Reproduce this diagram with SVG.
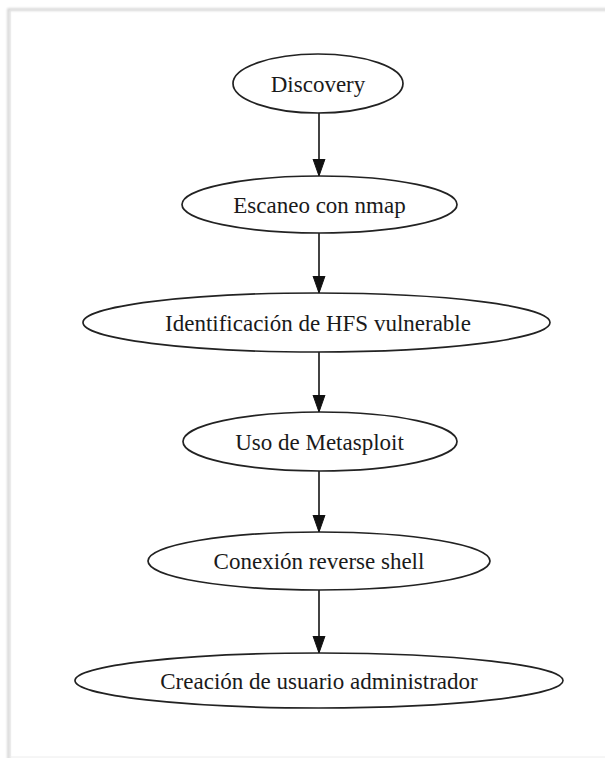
<svg xmlns="http://www.w3.org/2000/svg" width="605" height="758" viewBox="0 0 605 758">
<defs>
<marker id="ah" markerUnits="userSpaceOnUse" markerWidth="18" markerHeight="14" refX="17" refY="7" orient="auto" viewBox="0 0 18 14">
<polygon points="0,1 0,13 17,7" fill="#111" stroke="#111" stroke-width="1"/>
</marker>
<filter id="sh" x="-5%" y="-5%" width="110%" height="110%">
<feGaussianBlur stdDeviation="1"/>
</filter>
<style>
.n ellipse{fill:#fff;stroke:#222;stroke-width:1.7}
.n text{font-family:"Liberation Serif","Times New Roman",serif;font-size:23px;fill:#1a1a1a;text-anchor:middle}
.e line{stroke:#222;stroke-width:1.7}
</style>
</defs>
<rect width="605" height="758" fill="#fff"/>
<g id="frame">
<path d="M8.5,770 V9.5 H620" fill="none" stroke="#d4d4d4" stroke-width="2.5" filter="url(#sh)"/>
<path d="M10,770 V10 H620" fill="none" stroke="#e4e4e4" stroke-width="1"/>
<line x1="10" y1="757" x2="605" y2="757" stroke="#ececec" stroke-width="1"/>
</g>
<g id="edges" class="e">
<line x1="319" y1="113" x2="319" y2="176" marker-end="url(#ah)"/>
<line x1="319" y1="233" x2="319" y2="293" marker-end="url(#ah)"/>
<line x1="319" y1="352" x2="319" y2="412" marker-end="url(#ah)"/>
<line x1="319" y1="471" x2="319" y2="532" marker-end="url(#ah)"/>
<line x1="319" y1="590" x2="319" y2="653" marker-end="url(#ah)"/>
</g>
<g font-family="Liberation Serif, Times New Roman, serif">
<g id="discovery" class="n">
<ellipse cx="318" cy="83.5" rx="85" ry="29.5"/>
<text x="318" y="91.5" font-family="Liberation Serif, serif">Discovery</text>
</g>
<g id="escaneo" class="n">
<ellipse cx="319.5" cy="204.5" rx="137.5" ry="28.5"/>
<text x="319.5" y="212.5" font-family="Liberation Serif, serif">Escaneo con nmap</text>
</g>
<g id="identificacion" class="n">
<ellipse cx="316.5" cy="322.5" rx="233.5" ry="29.5"/>
<text x="318" y="330.5" font-family="Liberation Serif, serif">Identificación de HFS vulnerable</text>
</g>
<g id="metasploit" class="n">
<ellipse cx="320" cy="441.5" rx="137" ry="29.5"/>
<text x="319.5" y="449.5" font-family="Liberation Serif, serif">Uso de Metasploit</text>
</g>
<g id="reverse" class="n">
<ellipse cx="319" cy="561" rx="171" ry="29"/>
<text x="319" y="569" font-family="Liberation Serif, serif">Conexión reverse shell</text>
</g>
<g id="admin" class="n">
<ellipse cx="319" cy="680.5" rx="244" ry="27.5"/>
<text x="319" y="688.5" font-family="Liberation Serif, serif">Creación de usuario administrador</text>
</g>
</g>
</svg>
